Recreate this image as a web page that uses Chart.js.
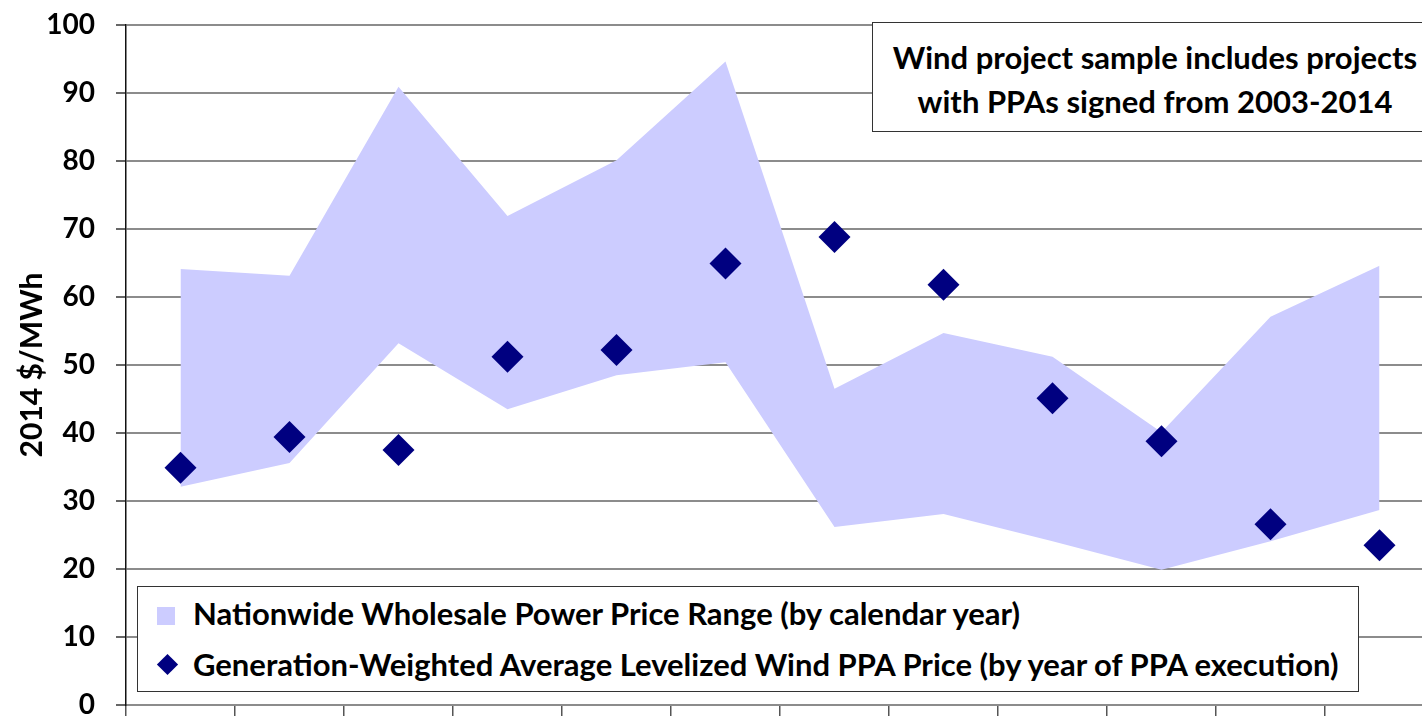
<!DOCTYPE html>
<html>
<head>
<meta charset="utf-8">
<script src="https://cdn.jsdelivr.net/npm/chart.js@4/dist/chart.umd.min.js"></script>
<style>
  html, body { margin: 0; padding: 0; background: #fff; overflow: hidden; }
  #wrap { position: relative; width: 1436px; height: 716px; overflow: hidden; font-family: Lato, "Open Sans", sans-serif; font-weight: bold; }
  #c { position: absolute; left: 0; top: -13px; }
  #note {
    position: absolute; left: 872px; top: 22px; width: 566px; height: 110px;
    border: 1.5px solid #333; background: #fff; box-sizing: border-box;
    text-align: center; font-size: 31px; line-height: 44px; padding-top: 12px; color: #000;
  }
  #legend {
    position: absolute; left: 137px; top: 586px; width: 1222px; height: 106px;
    border: 1.5px solid #333; background: #fff; box-sizing: border-box; font-size: 31px; color: #000;
  }
  .row { position: absolute; left: 55px; white-space: nowrap; line-height: 36px; }
  .sq { position: absolute; left: 19px; top: 20px; width: 18px; height: 18px; background: #ccccff; }
  .dia { position: absolute; left: 22px; top: 70px; width: 15px; height: 15px; background: #000080; transform: rotate(45deg); }
</style>
</head>
<body>
<div id="wrap">
  <canvas id="c" width="1436" height="756"></canvas>
  <div id="note">Wind project sample includes projects<br>with PPAs signed from 2003-2014</div>
  <div id="legend">
    <div class="sq"></div>
    <div class="row" style="top: 8px;">Nationwide Wholesale Power Price Range (by calendar year)</div>
    <div class="dia"></div>
    <div class="row" style="top: 59px;">Generation-Weighted Average Levelized Wind PPA Price (by year of PPA execution)</div>
  </div>
</div>
<script>
/* ===== DATA ===== */
const years = ["2003","2004","2005","2006","2007","2008","2009","2010","2011","2012","2013","2014"];
const priceHigh = [64.1, 63.1, 90.9, 71.9, 80.1, 94.6, 46.5, 54.7, 51.2, 40.1, 57.1, 64.6];
const priceLow  = [32.1, 35.6, 53.2, 43.5, 48.5, 50.4, 26.2, 28.1, 24.1, 19.9, 24.1, 28.7];
const ppaPrice  = [34.9, 39.4, 37.5, 51.2, 52.2, 64.9, 68.8, 61.8, 45.1, 38.8, 26.6, 23.5];
const yTicks = [0, 10, 20, 30, 40, 50, 60, 70, 80, 90, 100];

const font = "Lato, 'Open Sans', sans-serif";

new Chart(document.getElementById("c"), {
  type: "line",
  data: {
    labels: years,
    datasets: [
      {
        label: "Wind PPA Price",
        data: ppaPrice,
        showLine: false,
        pointStyle: "rectRot",
        pointRadius: 16,
        pointBackgroundColor: "#000080",
        pointBorderColor: "#000080",
        pointBorderWidth: 0,
        clip: false,
        order: 0
      },
      {
        label: "High",
        data: priceHigh,
        borderWidth: 0,
        borderColor: "rgba(0,0,0,0)",
        backgroundColor: "#ccccff",
        pointRadius: 0,
        fill: "+1",
        tension: 0,
        order: 1
      },
      {
        label: "Low",
        data: priceLow,
        borderWidth: 0,
        borderColor: "rgba(0,0,0,0)",
        pointRadius: 0,
        fill: false,
        tension: 0,
        order: 2
      }
    ]
  },
  options: {
    responsive: false,
    animation: false,
    events: [],
    layout: { autoPadding: false, padding: { top: 12, right: 2, left: 0, bottom: 0 } },
    plugins: { legend: { display: false }, tooltip: { enabled: false } },
    scales: {
      x: {
        type: "category",
        offset: true,
        grid: { offset: true, drawOnChartArea: false, tickLength: 11, color: "#555", lineWidth: 1.5 },
        border: { color: "#8c8c8c", width: 2 },
        ticks: { display: false }
      },
      y: {
        min: 0,
        max: 100,
        afterBuildTicks: (s) => { s.ticks = yTicks.map(v => ({ value: v })); },
        afterFit: (s) => { s.width = 126; },
        grid: { color: "#8c8c8c", lineWidth: 2, tickLength: 10, tickColor: "#333", tickWidth: 1.5 },
        border: { color: "#111", width: 1.5 },
        ticks: { color: "#000", padding: 21, font: { family: font, size: 28, weight: "bold" } },
        title: {
          display: true,
          text: "2014 $/MWh",
          color: "#000",
          padding: { top: 14, bottom: 0 },
          font: { family: font, size: 30, weight: "bold" }
        }
      }
    }
  }
});
</script>
</body>
</html>
